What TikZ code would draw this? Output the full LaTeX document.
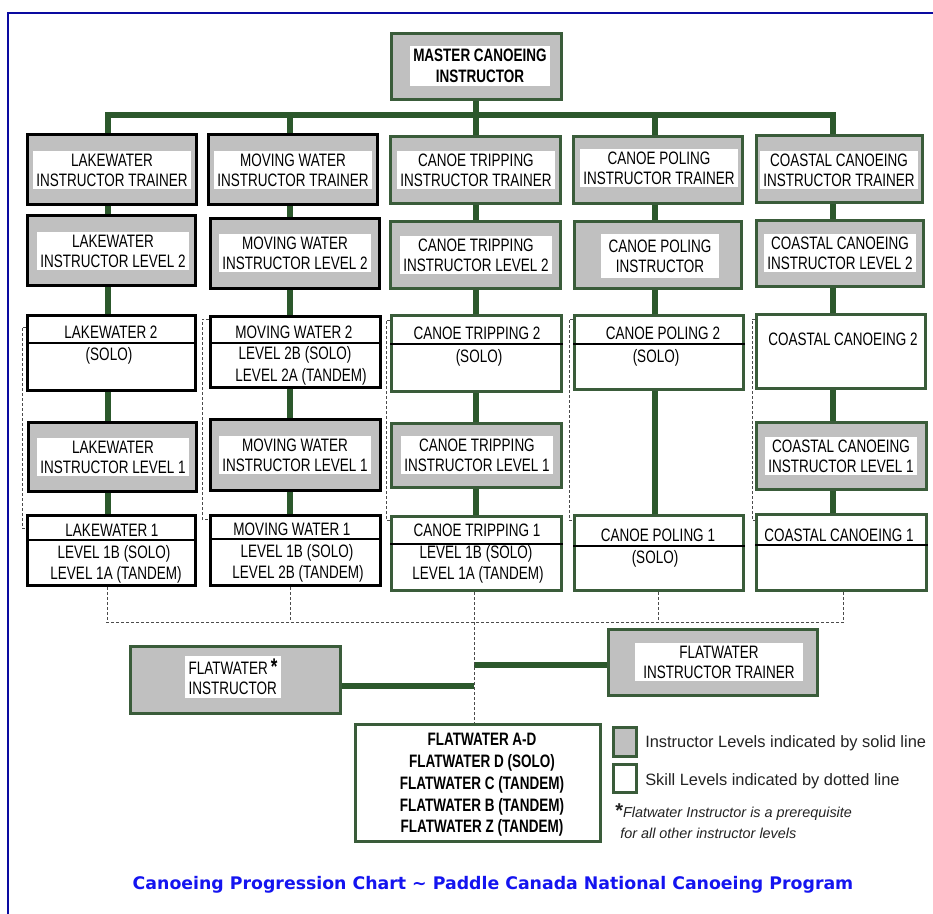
\documentclass[tikz,border=0pt]{standalone}
\usepackage{fontspec}
\setmainfont{Liberation Sans}
\newfontfamily\boxfont{Liberation Sans}[FakeStretch=0.75]
\newfontfamily\legfont{Liberation Sans}
\newfontfamily\capfont{DejaVu Sans}
\usetikzlibrary{calc}
\definecolor{cgreen}{RGB}{44,88,44}
\definecolor{bgreen}{RGB}{58,92,58}
\definecolor{bgray}{RGB}{192,192,192}
\definecolor{fblue}{RGB}{10,10,160}
\definecolor{tblue}{RGB}{20,20,240}
\definecolor{dgray}{RGB}{75,75,75}
\definecolor{legtxt}{RGB}{35,35,35}
\pgfdeclarelayer{background}
\pgfsetlayers{background,main}
% name, x1, y1, x2, y2, style
\newcommand\mkbox[6]{\node[#6, minimum width={(#4-#2-3)*0.75pt}, minimum height={(#5-#3-3)*0.75pt}] (#1) at ({(#2+#4)/2},{(#3+#5)/2}) {};}
% name, y : divider line inside a skill box
\newcommand\mkdiv[2]{\path (0,#2) coordinate (#1-dv); \draw[divl] (#1.west |- #1-dv) -- (#1.east |- #1-dv);}
\begin{document}
\begin{tikzpicture}[x=0.75pt,y=-0.75pt,
  ibox/.style={draw=black, line width=2.25pt, fill=bgray, inner sep=0pt},
  gbox/.style={ibox, draw=bgreen},
  sbox/.style={draw=black, line width=2.25pt, fill=white, inner sep=0pt},
  sgbox/.style={sbox, draw=bgreen},
  itext/.style={fill=white, font=\boxfont\fontsize{13.5}{15}\selectfont, align=center, inner xsep=2.5pt, inner ysep=2pt, text=black},
  btext/.style={itext, font=\boxfont\bfseries\fontsize{13.5}{16}\selectfont},
  stext/.style={font=\boxfont\fontsize{13.5}{15}\selectfont, inner sep=0pt, anchor=base, text=black},
  conn/.style={draw=cgreen, line width=4.5pt},
  dotl/.style={draw=dgray, line width=0.75pt, dash pattern=on 2.25pt off 1.5pt},
  divl/.style={draw=black, line width=0.9pt},
  legt/.style={font=\legfont\fontsize{12.3}{14}\selectfont, text=legtxt, anchor=base west, inner sep=0pt},
  notet/.style={font=\legfont\itshape\fontsize{10.8}{13}\selectfont, text=legtxt, anchor=base west, inner sep=0pt}
]
\useasboundingbox (0,0) rectangle (933,914);
% frame
\coordinate (FBL) at (8,914);
\coordinate (FTL) at (8,13);
\coordinate (FTR) at (933,13);
\draw[fblue, line width=1.5pt] (FBL) -- (FTL) -- (FTR);

% column axes
\coordinate (X1) at (108,0);
\coordinate (X2) at (290,0);
\coordinate (X3) at (476,0);
\coordinate (X4) at (655,0);
\coordinate (X5) at (833,0);
\coordinate (BUS) at (476,115);

% master
\mkbox{master}{390}{32}{563}{101}{gbox}
\node[btext] (master-t) at (480,66) {MASTER CANOEING\\INSTRUCTOR};

% trainers
\mkbox{lkT}{26}{133}{198}{206}{ibox}
\mkbox{mvT}{207}{133}{379}{206}{ibox}
\mkbox{ctT}{389}{135}{562}{205}{gbox}
\mkbox{cpT}{572}{135}{744}{205}{gbox}
\mkbox{ccT}{755}{134}{924}{204}{gbox}
\node[itext] (lkT-t) at (112,170) {LAKEWATER\\INSTRUCTOR TRAINER};
\node[itext] (mvT-t) at (293,170) {MOVING WATER\\INSTRUCTOR TRAINER};
\node[itext] (ctT-t) at (476,170) {CANOE TRIPPING\\INSTRUCTOR TRAINER};
\node[itext] (cpT-t) at (659,168) {CANOE POLING\\INSTRUCTOR TRAINER};
\node[itext] (ccT-t) at (839,170) {COASTAL CANOEING\\INSTRUCTOR TRAINER};

% instructor level 2
\mkbox{lkI2}{26}{214}{197}{287}{ibox}
\mkbox{mvI2}{209}{217}{381}{290}{ibox}
\mkbox{ctI2}{389}{220}{562}{290}{gbox}
\mkbox{cpI}{573}{220}{743}{290}{gbox}
\mkbox{ccI2}{755}{219}{925}{288}{gbox}
\node[itext] (lkI2-t) at (113,251) {LAKEWATER\\INSTRUCTOR LEVEL 2};
\node[itext] (mvI2-t) at (295,253) {MOVING WATER\\INSTRUCTOR LEVEL 2};
\node[itext] (ctI2-t) at (476,255) {CANOE TRIPPING\\INSTRUCTOR LEVEL 2};
\node[itext, inner xsep=6pt, inner ysep=4pt] (cpI-t) at (660,256) {CANOE POLING\\INSTRUCTOR};
\node[itext] (ccI2-t) at (840,253) {COASTAL CANOEING\\INSTRUCTOR LEVEL 2};

% skill level 2
\mkbox{lkS2}{26}{314}{197}{392}{sbox}
\mkbox{mvS2}{209}{315}{382}{389}{sbox}
\mkbox{ctS2}{390}{314}{563}{393}{sgbox}
\mkbox{cpS2}{573}{314}{745}{391}{sgbox}
\mkbox{ccS2}{755}{313}{927}{390}{sgbox}
\mkdiv{lkS2}{343}
\mkdiv{mvS2}{343}
\mkdiv{ctS2}{344}
\mkdiv{cpS2}{344}
\node[stext] (lkS2-a) at (111,338) {LAKEWATER 2};
\node[stext] (lkS2-b) at (109,360) {(SOLO)};
\node[stext] (mvS2-a) at (294,338) {MOVING WATER 2};
\node[stext] (mvS2-b) at (295,359) {LEVEL 2B (SOLO)};
\node[stext] (mvS2-c) at (301,381) {LEVEL 2A (TANDEM)};
\node[stext] (ctS2-a) at (477,339) {CANOE TRIPPING 2};
\node[stext] (ctS2-b) at (479,362) {(SOLO)};
\node[stext] (cpS2-a) at (663,339) {CANOE POLING 2};
\node[stext] (cpS2-b) at (656,362) {(SOLO)};
\node[stext] (ccS2-a) at (843,345) {COASTAL CANOEING 2};

% instructor level 1
\mkbox{lkI1}{27}{421}{198}{493}{ibox}
\mkbox{mvI1}{209}{418}{382}{492}{ibox}
\mkbox{ctI1}{390}{422}{563}{489}{gbox}
\mkbox{ccI1}{755}{421}{928}{491}{gbox}
\node[itext] (lkI1-t) at (113,457) {LAKEWATER\\INSTRUCTOR LEVEL 1};
\node[itext] (mvI1-t) at (295,455) {MOVING WATER\\INSTRUCTOR LEVEL 1};
\node[itext] (ctI1-t) at (477,455) {CANOE TRIPPING\\INSTRUCTOR LEVEL 1};
\node[itext] (ccI1-t) at (841,456) {COASTAL CANOEING\\INSTRUCTOR LEVEL 1};

% skill level 1
\mkbox{lkS1}{26}{514}{197}{587}{sbox}
\mkbox{mvS1}{209}{514}{382}{587}{sbox}
\mkbox{ctS1}{390}{515}{563}{592}{sgbox}
\mkbox{cpS1}{573}{514}{745}{592}{sgbox}
\mkbox{ccS1}{755}{513}{928}{592}{sgbox}
\mkdiv{lkS1}{540}
\mkdiv{mvS1}{539}
\mkdiv{ctS1}{544}
\mkdiv{cpS1}{546}
\mkdiv{ccS1}{545}
\node[stext] (lkS1-a) at (112,536) {LAKEWATER 1};
\node[stext] (lkS1-b) at (114,558) {LEVEL 1B (SOLO)};
\node[stext] (lkS1-c) at (116,579) {LEVEL 1A (TANDEM)};
\node[stext] (mvS1-a) at (292,535) {MOVING WATER 1};
\node[stext] (mvS1-b) at (297,557) {LEVEL 1B (SOLO)};
\node[stext] (mvS1-c) at (298,578) {LEVEL 2B (TANDEM)};
\node[stext] (ctS1-a) at (477,536) {CANOE TRIPPING 1};
\node[stext] (ctS1-b) at (476,558) {LEVEL 1B (SOLO)};
\node[stext] (ctS1-c) at (478,579) {LEVEL 1A (TANDEM)};
\node[stext] (cpS1-a) at (658,541) {CANOE POLING 1};
\node[stext] (cpS1-b) at (655,563) {(SOLO)};
\node[stext] (ccS1-a) at (839,541) {COASTAL CANOEING 1};

% flatwater
\mkbox{fwI}{129}{645}{342}{715}{gbox}
\mkbox{fwT}{607}{628}{819}{697}{gbox}
\mkbox{fwS}{354}{723}{602}{843}{sgbox}
\node[itext, align=left] (fwI-t) at (233,677) {FLATWATER\,{\bfseries\fontsize{17}{15}\selectfont *}\\INSTRUCTOR};
\node[itext, inner xsep=6pt] (fwT-t) at (719,662) {FLATWATER\\INSTRUCTOR TRAINER};
\node[btext, fill=none, font=\boxfont\bfseries\fontsize{13.5}{16.3}\selectfont] (fwS-t) at (482,785)
  {FLATWATER A-D\\FLATWATER D (SOLO)\\FLATWATER C (TANDEM)\\FLATWATER B (TANDEM)\\FLATWATER Z (TANDEM)};

% legend
\mkbox{legI}{612}{726}{638}{758}{gbox}
\mkbox{legS}{612}{763}{638}{794}{sgbox}
\node[legt] (legI-t) at (645,747) {Instructor Levels indicated by solid line};
\node[legt] (legS-t) at (645,785) {Skill Levels indicated by dotted line};
\node[notet] (note-a) at (615,817) {{\upshape\bfseries\fontsize{15}{13}\selectfont *}Flatwater Instructor is a prerequisite};
\node[notet] (note-b) at (620,838) {for all other instructor levels};

% caption
\node[font=\capfont\bfseries\fontsize{13}{15}\selectfont, text=tblue, inner sep=0pt] (caption) at (493,885)
  {Canoeing Progression Chart \textasciitilde{} Paddle Canada National Canoeing Program};

% dotted skill links
\coordinate (B1t) at (22,327);  \coordinate (B1b) at (22,528);
\coordinate (B2t) at (202,319); \coordinate (B2b) at (202,519);
\coordinate (B3t) at (386,320); \coordinate (B3b) at (386,520);
\coordinate (B4t) at (569,319); \coordinate (B4b) at (569,520);
\coordinate (B5t) at (752,319); \coordinate (B5b) at (752,520);
\coordinate (D1) at (107,622);
\coordinate (D2) at (290,622);
\coordinate (D3) at (474,622);
\coordinate (D4) at (658,622);
\coordinate (D5) at (843,622);
\coordinate (DL) at (106,622);
\coordinate (DR) at (845,622);
\coordinate (J1) at (474,686);
\coordinate (J2) at (474,665);

\begin{pgfonlayer}{background}
  \fill[white] (0,0) rectangle (933,914);
  % master and bus
  \draw[conn] (master.south -| X3) -- (ctT.north -| X3);
  \draw[conn] (lkT.north -| X1) |- (BUS) -| (ccT.north -| X5);
  \draw[conn] (BUS -| X2) -- (mvT.north -| X2);
  \draw[conn] (BUS -| X4) -- (cpT.north -| X4);
  % columns
  \draw[conn] (lkT.south -| X1) -- (lkS1.north -| X1);
  \draw[conn] (mvT.south -| X2) -- (mvS1.north -| X2);
  \draw[conn] (ctT.south -| X3) -- (ctS1.north -| X3);
  \draw[conn] (cpT.south -| X4) -- (cpS1.north -| X4);
  \draw[conn] (ccT.south -| X5) -- (ccS1.north -| X5);
  % flatwater
  \draw[conn] (fwI.east |- J1) -- (J1);
  \draw[conn] (J2) -- (fwT.west |- J2);
\end{pgfonlayer}

% brackets
\draw[dotl] (lkS2.west |- B1t) -- (B1t) -- (B1b) -- (lkS1.west |- B1b);
\draw[dotl] (mvS2.west |- B2t) -- (B2t) -- (B2b) -- (mvS1.west |- B2b);
\draw[dotl] (ctS2.west |- B3t) -- (B3t) -- (B3b) -- (ctS1.west |- B3b);
\draw[dotl] (cpS2.west |- B4t) -- (B4t) -- (B4b) -- (cpS1.west |- B4b);
\draw[dotl] (ccS2.west |- B5t) -- (B5t) -- (B5b) -- (ccS1.west |- B5b);
% bottom dotted
\draw[dotl] (lkS1.south -| D1) -- (D1);
\draw[dotl] (mvS1.south -| D2) -- (D2);
\draw[dotl] (ctS1.south -| D3) -- (D3) -- (fwS.north -| D3);
\draw[dotl] (cpS1.south -| D4) -- (D4);
\draw[dotl] (ccS1.south -| D5) -- (D5);
\draw[dotl] (DL) -- (DR);
\end{tikzpicture}
\end{document}
